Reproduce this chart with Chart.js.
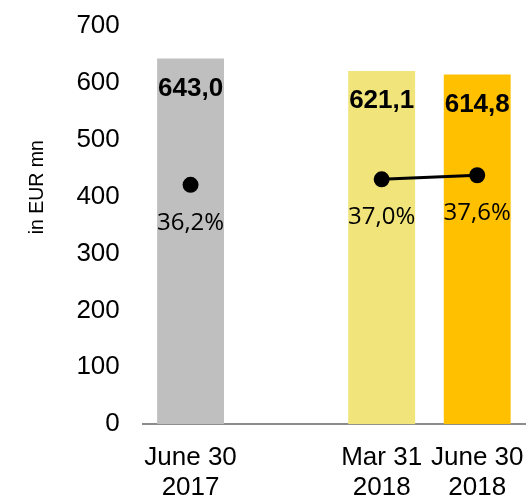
<!DOCTYPE html>
<html>
<head>
<meta charset="utf-8">
<script src="https://cdn.jsdelivr.net/npm/chart.js@4/dist/chart.umd.min.js"></script>
<style>
  html, body { margin: 0; padding: 0; background: #fff; }
  #wrap { width: 529px; height: 499px; }
</style>
</head>
<body>
<div id="wrap"><canvas id="mycanvas"></canvas></div>
<script>
// data
var periods = [["June 30", "2017"], "", ["Mar 31", "2018"], ["June 30", "2018"]];
var costs = [643.0, null, 621.1, 614.8];
var ratios = [36.2, null, 37.0, 37.6];
var costLabels = ["643,0", "", "621,1", "614,8"];
var ratioLabels = ["36,2%", "", "37,0%", "37,6%"];
var barColors = ["#BFBFBF", "#BFBFBF", "#F0E47A", "#FFC000"];

// writes the numbers onto the bars and under the dots
var valueLabels = {
	id: 'valueLabels',
	afterDatasetsDraw: function(chart) {
		var ctx = chart.ctx;
		ctx.save();
		ctx.fillStyle = '#000';
		ctx.textAlign = 'center';
		ctx.textBaseline = 'middle';

		var bars = chart.getDatasetMeta(0).data;
		ctx.font = 'bold 26px "Liberation Sans", Arial, sans-serif';
		for (var i = 0; i < bars.length; i++) {
			if (costs[i] == null) continue;
			ctx.fillText(costLabels[i], bars[i].x, bars[i].y + 30);
		}

		var dots = chart.getDatasetMeta(1).data;
		ctx.font = '24px "Open Sans", sans-serif';
		for (var j = 0; j < dots.length; j++) {
			if (ratios[j] == null) continue;
			ctx.fillText(ratioLabels[j], dots[j].x, dots[j].y + 38);
		}
		ctx.restore();
	}
};

// the tick padding should not eat into the plot area
function noEdgePadding(scale) {
	scale.paddingLeft = 0;
	scale.paddingRight = 0;
	scale.paddingTop = 0;
	scale.paddingBottom = 0;
}

var ctx = document.getElementById('mycanvas');
var chart = new Chart(ctx, {
	type: 'bar',
	data: {
		labels: periods,
		datasets: [
			{
				label: 'Costs',
				data: costs,
				backgroundColor: barColors,
				barPercentage: 0.7,
				categoryPercentage: 1.0,
				order: 1,
				yAxisID: 'y'
			},
			{
				label: 'Cost income ratio',
				type: 'line',
				data: ratios,
				borderColor: '#000',
				backgroundColor: '#000',
				borderWidth: 3,
				pointRadius: 6.5,
				pointHoverRadius: 6.5,
				spanGaps: false,
				order: 0,
				yAxisID: 'y1'
			}
		]
	},
	options: {
		responsive: true,
		maintainAspectRatio: false,
		animation: false,
		layout: { autoPadding: false, padding: { left: 22, right: 4, top: 26, bottom: -23 } },
		plugins: {
			legend: { display: false },
			tooltip: { enabled: false }
		},
		scales: {
			x: {
				afterFit: noEdgePadding,
				grid: { display: false, drawTicks: false },
				border: { display: true, color: '#8C8C8C', width: 2 },
				ticks: {
					color: '#000',
					padding: 19,
					maxRotation: 0,
					autoSkip: false,
					font: { family: '"Liberation Sans", Arial, sans-serif', size: 26, lineHeight: 1.15 }
				}
			},
			y: {
				afterFit: noEdgePadding,
				min: 0,
				max: 700,
				grid: { display: false, drawTicks: false },
				border: { display: false },
				ticks: {
					stepSize: 100,
					color: '#000',
					padding: 23,
					font: { family: '"Liberation Sans", Arial, sans-serif', size: 26 }
				},
				title: {
					display: true,
					// leading spaces push the centred title up the axis, as in the original
					text: '              in EUR mn',
					color: '#000',
					padding: { top: 4, bottom: 4 },
					font: { family: '"Liberation Sans", Arial, sans-serif', size: 19.5 }
				}
			},
			y1: {
				display: false,
				min: 1.4,
				max: 59.3
			}
		}
	},
	plugins: [valueLabels]
});
</script>
</body>
</html>
